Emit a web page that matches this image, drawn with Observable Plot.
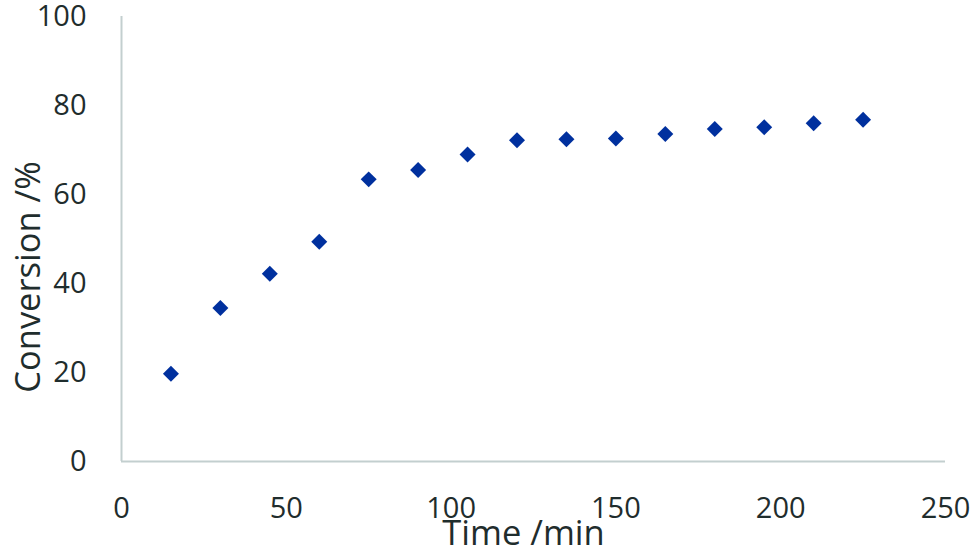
<!DOCTYPE html>
<html>
<head>
<meta charset="utf-8">
<script src="https://cdn.jsdelivr.net/npm/d3@7"></script>
<script src="https://cdn.jsdelivr.net/npm/@observablehq/plot@0.6"></script>
<style>
  html, body { margin: 0; padding: 0; background: #fff; }
  #chart svg { display: block; }
</style>
</head>
<body>
<div id="chart"></div>
<script>
const times = [15, 30, 45, 60, 75, 90, 105, 120, 135, 150, 165, 180, 195, 210, 225];
const conversion = [19.7, 34.5, 42.2, 49.4, 63.4, 65.5, 69.0, 72.2, 72.4, 72.6, 73.6, 74.7, 75.1, 76.0, 76.8];
const xTicks = [0, 50, 100, 150, 200, 250];
const yTicks = [0, 20, 40, 60, 80, 100];
const xTitle = "Time /min";
const yTitle = "Conversion /%";

const data = times.map((t, i) => ({time: t, conv: conversion[i]}));
const textColor = "#1f2d2d";
const axisColor = "#c3cfcf";

const chart = Plot.plot({
  width: 976,
  height: 558,
  marginLeft: 121,
  marginRight: 31,
  marginTop: 16,
  marginBottom: 97,
  style: {fontFamily: "'Open Sans', sans-serif", background: "#fff", color: textColor},
  x: {domain: [0, 250], ticks: xTicks, label: null},
  y: {domain: [0, 100], ticks: yTicks, label: null},
  marks: [
    Plot.axisX({ticks: xTicks, tickSize: 0, tickPadding: 36, fontSize: 29, label: null, fill: textColor}),
    Plot.axisY({ticks: yTicks, tickSize: 0, tickPadding: 35, fontSize: 29, label: null, fill: textColor}),
    Plot.ruleX([0], {stroke: axisColor, strokeWidth: 2}),
    Plot.ruleY([0], {stroke: axisColor, strokeWidth: 2}),
    Plot.dot(data, {x: "time", y: "conv", symbol: "diamond2", r: 7.2, fill: "#00309e", stroke: null}),
    Plot.text([xTitle], {text: d => d, frameAnchor: "bottom", textAnchor: "middle", lineAnchor: "middle", dx: -10, dy: 72, fontSize: 34.5, fill: textColor}),
    Plot.text([yTitle], {text: d => d, frameAnchor: "left", textAnchor: "middle", lineAnchor: "middle", rotate: -90, dx: -93, dy: 38, fontSize: 34.5, fill: textColor})
  ]
});
document.getElementById("chart").appendChild(chart);
</script>
</body>
</html>
